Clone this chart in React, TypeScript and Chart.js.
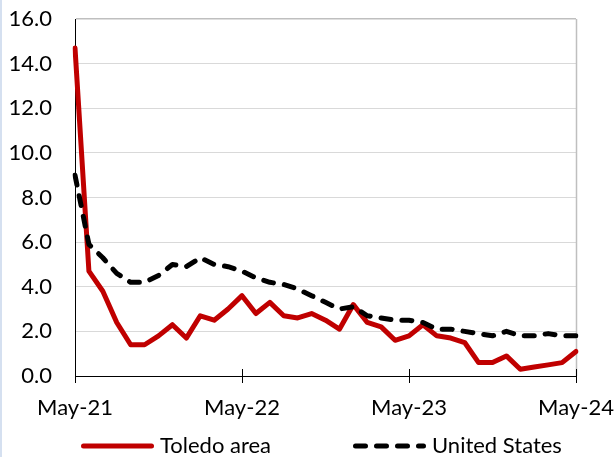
import React, { useEffect, useRef } from 'react';
import { Chart, registerables } from 'chart.js';

Chart.register(...registerables);

const months = [
  'May-21', 'Jun-21', 'Jul-21', 'Aug-21', 'Sep-21', 'Oct-21', 'Nov-21', 'Dec-21',
  'Jan-22', 'Feb-22', 'Mar-22', 'Apr-22', 'May-22', 'Jun-22', 'Jul-22', 'Aug-22',
  'Sep-22', 'Oct-22', 'Nov-22', 'Dec-22', 'Jan-23', 'Feb-23', 'Mar-23', 'Apr-23',
  'May-23', 'Jun-23', 'Jul-23', 'Aug-23', 'Sep-23', 'Oct-23', 'Nov-23', 'Dec-23',
  'Jan-24', 'Feb-24', 'Mar-24', 'Apr-24', 'May-24',
];

const tickLabels = ['May-21', 'May-22', 'May-23', 'May-24'];

const toledoArea = [
  14.7, 4.7, 3.8, 2.4, 1.4, 1.4, 1.8, 2.3, 1.7, 2.7, 2.5, 3.0,
  3.6, 2.8, 3.3, 2.7, 2.6, 2.8, 2.5, 2.1, 3.2, 2.4, 2.2, 1.6,
  1.8, 2.3, 1.8, 1.7, 1.5, 0.6, 0.6, 0.9, 0.3, 0.4, 0.5, 0.6,
  1.1,
];

const unitedStates = [
  9.0, 5.9, 5.3, 4.6, 4.2, 4.2, 4.5, 5.0, 4.9, 5.3, 5.0, 4.9,
  4.7, 4.4, 4.2, 4.1, 3.9, 3.6, 3.3, 3.0, 3.1, 2.7, 2.6, 2.5,
  2.5, 2.4, 2.1, 2.1, 2.0, 1.9, 1.8, 2.0, 1.8, 1.8, 1.9, 1.8,
  1.8,
];

const seriesNames = ['Toledo area', 'United States'];

const FONT = 'Lato, "DejaVu Sans", sans-serif';

const xTickMarks = {
  id: 'xTickMarks',
  beforeDatasetsDraw(chart: any) {
    const { ctx, chartArea } = chart;
    const xs = chart.scales.x;
    ctx.save();
    // plot border (right) in gray
    ctx.strokeStyle = '#bfbfbf';
    ctx.lineWidth = 1.5;
    ctx.beginPath();
    ctx.moveTo(chartArea.right + 0.5, chartArea.top);
    ctx.lineTo(chartArea.right + 0.5, chartArea.bottom);
    ctx.stroke();
    // tick marks crossing the x axis
    ctx.strokeStyle = '#000';
    ctx.lineWidth = 1;
    xs.ticks.forEach((_t: any, i: number) => {
      const px = Math.round(xs.getPixelForTick(i)) + 0.5;
      ctx.beginPath();
      ctx.moveTo(px, chartArea.bottom - 7);
      ctx.lineTo(px, chartArea.bottom + 7);
      ctx.stroke();
    });
    ctx.restore();
  },
};

const bottomLegend = {
  id: 'bottomLegend',
  afterDraw(chart: any) {
    const { ctx } = chart;
    const starts = [83.5, 355.5];
    const y = 446;
    const lineLen = 68;
    chart.data.datasets.forEach((ds: any, i: number) => {
      const x = starts[i];
      ctx.save();
      ctx.strokeStyle = ds.borderColor;
      ctx.lineWidth = ds.borderWidth;
      ctx.lineCap = ds.borderCapStyle || 'butt';
      ctx.setLineDash(ds.borderDash || []);
      ctx.beginPath();
      ctx.moveTo(x, y);
      ctx.lineTo(x + lineLen, y);
      ctx.stroke();
      ctx.setLineDash([]);
      ctx.fillStyle = '#000';
      ctx.font = `22px ${FONT}`;
      ctx.textBaseline = 'middle';
      ctx.textAlign = 'left';
      ctx.fillText(ds.label, x + 76.5, y);
      ctx.restore();
    });
  },
};

export default function App() {
  const canvasRef = useRef<HTMLCanvasElement | null>(null);

  useEffect(() => {
    if (!canvasRef.current) return;
    const chart = new Chart(canvasRef.current, {
      type: 'line',
      data: {
        labels: months,
        datasets: [
          {
            label: seriesNames[0],
            data: toledoArea,
            borderColor: '#c00000',
            backgroundColor: '#c00000',
            borderWidth: 5,
            borderCapStyle: 'round',
            borderJoinStyle: 'round',
            pointRadius: 0,
            tension: 0,
            order: 1,
          },
          {
            label: seriesNames[1],
            data: unitedStates,
            borderColor: '#000000',
            backgroundColor: '#000000',
            borderWidth: 5,
            borderDash: [10, 11],
            borderCapStyle: 'round',
            borderJoinStyle: 'round',
            pointRadius: 0,
            tension: 0,
            order: 0,
          },
        ],
      },
      options: {
        animation: false,
        responsive: false,
        maintainAspectRatio: false,
        layout: { padding: { left: 0, right: 40, top: 19, bottom: 0 } },
        plugins: {
          legend: { display: false },
          tooltip: { enabled: false },
        },
        scales: {
          x: {
            type: 'category',
            afterBuildTicks: (scale: any) => {
              scale.ticks = scale.ticks.filter((t: any) =>
                tickLabels.includes(months[t.value])
              );
            },
            afterFit: (scale: any) => {
              scale.height = 81;
            },
            ticks: {
              autoSkip: false,
              maxRotation: 0,
              minRotation: 0,
              padding: 0,
              color: '#000',
              font: { family: FONT, size: 22 },
            },
            grid: {
              display: true,
              drawOnChartArea: false,
              drawTicks: true,
              tickLength: 19,
              tickColor: 'rgba(0,0,0,0)',
            },
            border: { display: true, color: '#000', width: 1 },
          },
          y: {
            min: 0,
            max: 16,
            afterFit: (scale: any) => {
              scale.width = 75;
            },
            ticks: {
              stepSize: 2,
              padding: 0,
              color: '#000',
              font: { family: FONT, size: 22 },
              callback: (v: any) => Number(v).toFixed(1),
            },
            grid: {
              drawTicks: true,
              tickLength: 23,
              tickColor: 'rgba(0,0,0,0)',
              color: (c: any) => (c.tick && c.tick.value === 16 ? '#bfbfbf' : '#d9d9d9'),
              lineWidth: (c: any) => (c.tick && c.tick.value === 16 ? 1.5 : 1),
            },
            border: { display: true, color: '#000', width: 1 },
          },
        },
      },
      plugins: [xTickMarks, bottomLegend],
    });
    return () => chart.destroy();
  }, []);

  return (
    <div
      style={{
        position: 'fixed',
        left: 0,
        top: 0,
        width: 616,
        height: 457,
        background: '#fff',
        overflow: 'hidden',
      }}
    >
      <canvas ref={canvasRef} width={616} height={457} style={{ display: 'block' }} />
      <div
        style={{
          position: 'absolute',
          left: 0,
          top: 0,
          width: 2,
          height: 457,
          background: '#d5e0f0',
        }}
      />
    </div>
  );
}
